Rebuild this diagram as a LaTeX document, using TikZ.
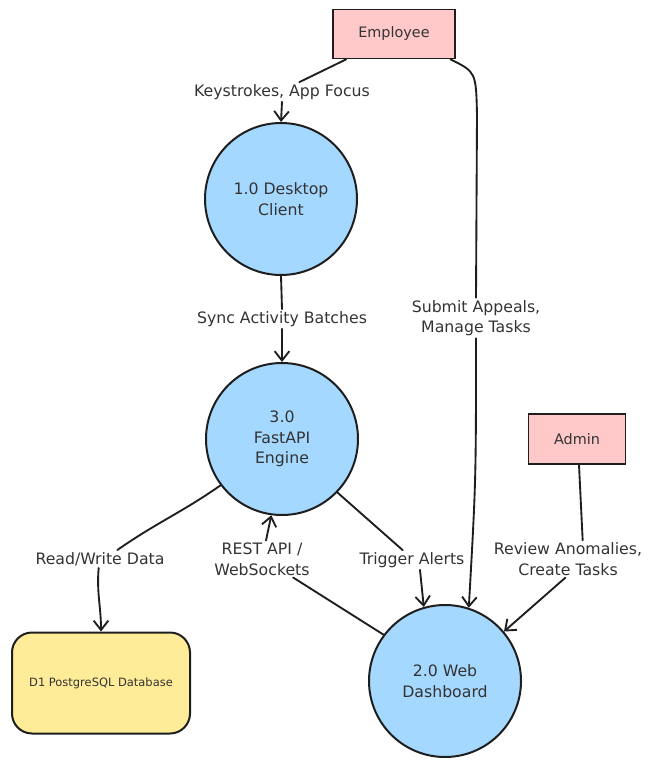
\documentclass[tikz,border=0pt]{standalone}
\usepackage{fontspec}
\setmainfont{DejaVu Sans}
\usetikzlibrary{arrows.meta}
\definecolor{procfill}{HTML}{A5D8FF}
\definecolor{entfill}{HTML}{FFC9C9}
\definecolor{storefill}{HTML}{FFEC99}
\definecolor{ink}{HTML}{1E1E1E}
\definecolor{txt}{HTML}{333333}
\tikzset{
  proc/.style={circle, draw=ink, line width=1.5pt, fill=procfill, minimum size=114pt,
    inner sep=0pt, align=center, font=\fontsize{11.8pt}{15.5pt}\selectfont, text=txt},
  ent/.style={rectangle, draw=ink, line width=1.3pt, fill=entfill, align=center,
    font=\fontsize{10.8pt}{14pt}\selectfont, text=txt},
  store/.style={rectangle, rounded corners=15pt, draw=ink, line width=1.5pt, fill=storefill,
    minimum width=133.5pt, minimum height=75.75pt, align=center,
    font=\fontsize{8.6pt}{10pt}\selectfont, text=txt},
  lbl/.style={align=center, inner sep=1.5pt, font=\fontsize{11.8pt}{15.5pt}\selectfont, text=txt},
  flow/.style={draw=ink, line width=1.4pt, line cap=round},
  flowarrow/.style={flow, -{Straight Barb[length=7pt,width=11pt,line width=1.4pt]}}
}
\begin{document}
\begin{tikzpicture}[x=0.75pt, y=-0.75pt]
\useasboundingbox (0,0) rectangle (649,760);

% external entities
\node[ent, minimum width=91.5pt, minimum height=36.75pt] (emp) at (394,34) {Employee};
\node[ent, minimum width=72.75pt, minimum height=37.5pt] (admin) at (577,439) {Admin};

% processes
\node[proc] (desk) at (281,199) {1.0 Desktop\\Client};
\node[proc] (api) at (282,439) {3.0\\FastAPI\\Engine};
\node[proc] (dash) at (445,681) {2.0 Web\\Dashboard};

% data store
\node[store] (db) at (101,683) {D1 PostgreSQL Database};

% flow labels
\node[lbl] (lkeys) at (282,92) {Keystrokes, App Focus};
\node[lbl] (lsync) at (282,319) {Sync Activity Batches};
\node[lbl] (lrw) at (100,559) {Read/Write Data};
\node[lbl] (lrest) at (262,559) {REST API /\\WebSockets};
\node[lbl] (ltrig) at (412,560) {Trigger Alerts};
\node[lbl] (lsub) at (476,318) {Submit Appeals,\\Manage Tasks};
\node[lbl] (lrev) at (568,559) {Review Anomalies,\\Create Tasks};

% Employee -> Desktop Client
\draw[flow] ([xshift=10.5pt]emp.south west) -- ([xshift=13pt]lkeys.north);
\draw[flowarrow] (lkeys.south) -- (desk.north);

% Desktop Client -> FastAPI Engine
\draw[flow] (desk.south) -- (lsync.north);
\draw[flowarrow] (lsync.south) -- (api.north);

% FastAPI Engine -> Database
\draw[flow] (api.217) to[out=-145, in=35] ([xshift=13pt]lrw.north);
\draw[flowarrow] ([xshift=-1pt]lrw.south) to[out=-95, in=90] (db.north);

% Dashboard -> FastAPI Engine
\draw[flow] (dash.143) -- ([xshift=-14pt]lrest.south east);
\draw[flowarrow] ([xshift=3pt]lrest.north) -- (api.262);

% FastAPI Engine -> Dashboard
\draw[flow] (api.-44) -- ([xshift=-7pt]ltrig.north);
\draw[flowarrow] ([xshift=6pt]ltrig.south) -- (dash.106);

% Employee -> Dashboard
\draw[flow] ([xshift=-4pt]emp.south east) .. controls (476,72) .. (477,115) -- (lsub.north);
\draw[flowarrow] (lsub.south) .. controls (476,480) .. (dash.72);

% Admin -> Dashboard
\draw[flow] ([xshift=1.5pt]admin.south) -- ([xshift=11pt]lrev.north);
\draw[flowarrow] ([xshift=-2pt]lrev.south) -- (dash.40);
\end{tikzpicture}
\end{document}
